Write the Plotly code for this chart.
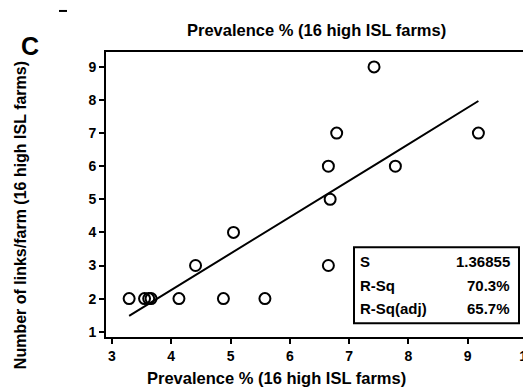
import numpy as np
import plotly.graph_objects as go

# Data
prevalence = [3.29, 3.55, 3.62, 3.66, 4.13, 4.41, 4.88, 5.05, 5.58,
              6.65, 6.65, 6.68, 6.79, 7.42, 7.78, 9.18]
links = [2, 2, 2, 2, 2, 3, 2, 4, 2,
         3, 6, 5, 7, 9, 6, 7]
stat_labels = ["S", "R-Sq", "R-Sq(adj)"]
stat_values = ["1.36855", "70.3%", "65.7%"]
x_ticks = [3, 4, 5, 6, 7, 8, 9, 10]
y_ticks = [1, 2, 3, 4, 5, 6, 7, 8, 9]
title_text = "Prevalence % (16 high ISL farms)"
y_title = "Number of links/farm (16 high ISL farms)"

FONT = "Liberation Sans"
OFF = 8  # page body margin offset
W, H = 531, 391
ML, MR, MT, MB = 106 - OFF, 0, 52 - OFF, H - (336.7 - OFF)
PW, PH = W - ML - MR, H - MT - MB

coef = np.polyfit(prevalence, links, 2)
xf = np.linspace(min(prevalence), max(prevalence), 80)
yf = np.polyval(coef, xf)

fig = go.Figure()
fig.add_trace(go.Scatter(x=xf, y=yf, mode="lines",
                         line=dict(color="black", width=2), showlegend=False))
fig.add_trace(go.Scatter(x=prevalence, y=links, mode="markers",
                         marker=dict(symbol="circle-open", size=11, color="black",
                                     line=dict(width=2, color="black")),
                         showlegend=False, cliponaxis=False))

axis_common = dict(showgrid=False, zeroline=False, showline=True, mirror=True,
                   linecolor="black", linewidth=2, ticks="outside", ticklen=5,
                   tickwidth=2, tickcolor="black", automargin=False,
                   tickfont=dict(size=14, family=FONT))

fig.update_layout(
    width=W, height=H, autosize=False,
    margin=dict(l=ML, r=MR, t=MT, b=MB, pad=0, autoexpand=False),
    paper_bgcolor="white", plot_bgcolor="white",
    font=dict(family=FONT, color="black"),
    xaxis=dict(range=[2.9, 2.9 + PW / 59.3], tickvals=x_ticks,
               ticktext=[f"<b>{v}</b>" for v in x_ticks], **axis_common),
    yaxis=dict(range=[0.84, 9.45], tickvals=y_ticks,
               ticktext=[f"<b>{v}</b>" for v in y_ticks], **axis_common),
)


def px_x(x):
    return (x - OFF - ML) / PW


def px_y(y):
    return (H - (y - OFF) - MB) / PH


def px_ann(text, x, y, size, xanchor="center", angle=0):
    return dict(text=text, xref="paper", yref="paper",
                x=px_x(x), y=px_y(y),
                xanchor=xanchor, yanchor="middle", textangle=angle,
                font=dict(size=size, family=FONT), showarrow=False)


ann = [
    px_ann(f"<b>{title_text}</b>", 316, 30, 16.5),
    px_ann(f"<b>{title_text}</b>", 276, 378, 16.5),
    px_ann(f"<b>{y_title}</b>", 20, 215, 16, angle=-90),
    px_ann("<b>C</b>", 30, 46, 25),
]
row_y = [261, 285, 308]
for lab, val, yy in zip(stat_labels, stat_values, row_y):
    ann.append(px_ann(f"<b>{lab}</b>", 358, yy, 15, xanchor="left"))
    ann.append(px_ann(f"<b>{val}</b>", 512, yy, 15, xanchor="right"))
fig.update_layout(annotations=ann)

# stats box
fig.add_shape(type="rect", xref="paper", yref="paper",
              x0=px_x(354), x1=px_x(519), y0=px_y(323), y1=px_y(247),
              line=dict(color="black", width=2), fillcolor="white", layer="below")
# small dash mark at top-left of the panel
fig.add_shape(type="line", xref="paper", yref="paper",
              x0=px_x(59), x1=px_x(67), y0=px_y(11), y1=px_y(11),
              line=dict(color="black", width=2))

fig.write_html("out.html")
